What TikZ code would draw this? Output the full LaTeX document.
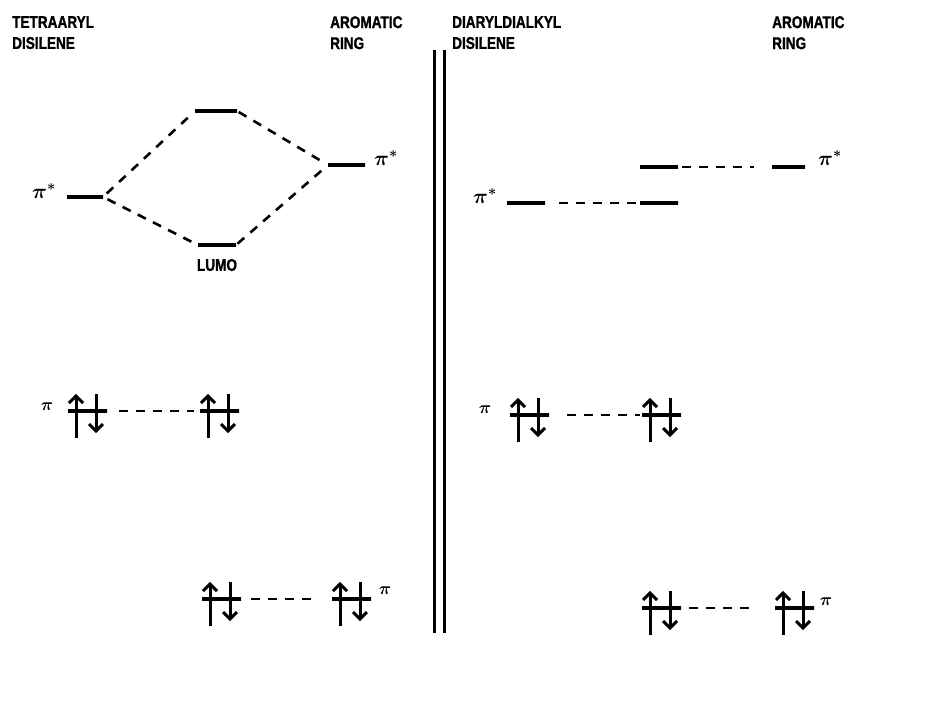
\documentclass[tikz,border=0pt]{standalone}
\usepackage{fontspec}
\newfontfamily\hdrfont[FakeStretch=0.8,FakeBold=1.2]{Liberation Sans}
\usetikzlibrary{calc}
\tikzset{
  lvl/.style={draw, line width=3.2pt, shape=rectangle, inner sep=0pt, minimum height=0pt, outer sep=0pt},
  conn/.style={line width=2.6pt, dash pattern=on 9pt off 8pt},
  arr/.style={line width=3pt, line cap=butt, line join=miter},
  hdr/.style={font=\hdrfont\bfseries\fontsize{17}{21}\selectfont, inner sep=0pt, align=left, anchor=north west},
  plabel/.style={font=\fontsize{21}{24}\selectfont\boldmath, inner sep=0pt},
  slabel/.style={font=\fontsize{19}{22}\selectfont\boldmath, inner sep=0pt},
}
\newcommand\mylevel[4]{% name, x-centre, y, width
  \node[lvl, minimum width=#4pt] (#1) at (#2,#3) {};}
\newcommand\epair[3]{% name, left x, y
  \node[lvl, minimum width=39pt, anchor=west] (#1) at (#2,#3) {};
  \draw[arr] ([shift={(8,27)}]#1.west) -- ([shift={(8,-15)}]#1.west);
  \draw[arr] ([shift={(1,-8)}]#1.west) -- ([shift={(8,-15)}]#1.west) -- ([shift={(15,-8)}]#1.west);
  \draw[arr] ([shift={(28,-17)}]#1.west) -- ([shift={(28,20)}]#1.west);
  \draw[arr] ([shift={(21,13)}]#1.west) -- ([shift={(28,20)}]#1.west) -- ([shift={(35,13)}]#1.west);
}
\begin{document}
\begin{tikzpicture}[x=1pt,y=-1pt]
\useasboundingbox (0,0) rectangle (945,706);

% headers
\node[hdr] (h1) at (12,16) {TETRAARYL\\DISILENE};
\node[hdr] (h2) at (330,16) {AROMATIC\\RING};
\node[hdr] (h3) at (452,16) {DIARYLDIALKYL\\DISILENE};
\node[hdr] (h4) at (772,16) {AROMATIC\\RING};

% double separator
\coordinate (s1t) at (434,50); \coordinate (s1b) at (434,633);
\coordinate (s2t) at (444,50); \coordinate (s2b) at (444,633);
\draw[line width=3pt] (s1t) -- (s1b);
\draw[line width=3pt] (s2t) -- (s2b);

% ---- left: tetraaryl disilene ----
\mylevel{lpis}{85}{197}{36}
\mylevel{ltop}{216}{111}{42}
\mylevel{llumo}{217}{245}{38}
\mylevel{lring}{346.5}{165}{37}
\node[plabel] (lpisl) at (44,191) {$\pi^{*}$};
\node[plabel] (lringl) at (386,158) {$\pi^{*}$};
\node[font=\hdrfont\bfseries\fontsize{17}{21}\selectfont, inner sep=0pt] (lumo) at (217,265) {LUMO};
\draw[conn, shorten <=5pt, shorten >=2pt] (lpis.east) -- (ltop.west);
\draw[conn, shorten <=5pt, shorten >=2pt] (lpis.east) -- (llumo.west);
\draw[conn, shorten <=2pt, shorten >=4pt] (ltop.east) -- (lring.west);
\draw[conn, shorten <=2pt, shorten >=4pt] (llumo.east) -- (lring.west);

\epair{lp1}{68}{411}
\epair{lp2}{200}{411}
\node[slabel] (lpl) at (47,407) {$\pi$};
\draw[conn, shorten <=12pt, shorten >=6pt] (lp1.east) -- (lp2.west);

\epair{lb1}{202}{599}
\epair{lb2}{332}{599}
\node[slabel] (lbl) at (385,591) {$\pi$};
\draw[conn, shorten <=10pt, shorten >=14pt] (lb1.east) -- (lb2.west);

% ---- right: diaryldialkyl disilene ----
\mylevel{rpis}{526}{203}{38}
\mylevel{rmixa}{659}{203}{38}
\mylevel{rmixb}{659}{167}{38}
\mylevel{rring}{788.5}{167}{33}
\node[plabel] (rpisl) at (485,196) {$\pi^{*}$};
\node[plabel] (rringl) at (830,158) {$\pi^{*}$};
\draw[conn, shorten <=14pt] (rpis.east) -- (rmixa.west);
\draw[conn, shorten <=4pt, shorten >=18pt] (rmixb.east) -- (rring.west);

\epair{rp1}{510}{415}
\epair{rp2}{642}{415}
\node[slabel] (rpl) at (485,410) {$\pi$};
\draw[conn, shorten <=18pt, shorten >=2pt] (rp1.east) -- (rp2.west);

\epair{rb1}{642}{608}
\epair{rb2}{775}{608}
\node[slabel] (rbl) at (826,602) {$\pi$};
\draw[conn, shorten <=8pt, shorten >=18pt] (rb1.east) -- (rb2.west);
\end{tikzpicture}
\end{document}
